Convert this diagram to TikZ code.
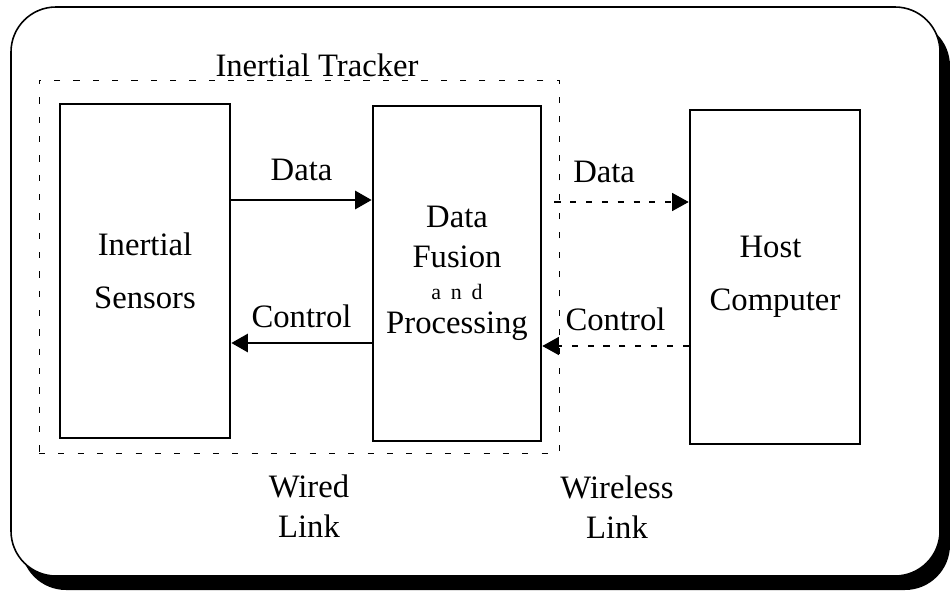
\documentclass[tikz,border=0pt]{standalone}
\usepackage{fontspec}
\setmainfont{Liberation Serif}
\usetikzlibrary{arrows.meta}
\begin{document}
\begin{tikzpicture}[font=\fontsize{18.6}{23}\selectfont,
    >={Triangle[length=3.3mm,width=3.6mm]},
    block/.style={draw, rectangle, line width=1.5pt, minimum width=3.4cm, minimum height=6.68cm, align=center, font=\fontsize{18.6}{30}\selectfont},
    radio/.style={dash pattern=on 3.5pt off 5.5pt, line width=0.6pt}]
    \useasboundingbox (0,0) rectangle (19,-11.84);
    \fill[black, rounded corners=0.9cm] (0.42,-0.42) rectangle (19,-11.8);
    \draw[fill=white, line width=0.9pt, rounded corners=0.9cm] (0.22,-0.14) rectangle (18.8,-11.52);
    \node at (5.98,-5.33) [draw, rectangle, dash pattern=on 3.5pt off 7.5pt, line width=0.5pt, minimum width=10.4cm, minimum height=7.46cm] (T) {};
    \node at (6.34,-1.3) (title) {Inertial Tracker};
    \node at (2.9,-5.42) [block] (sensors) {Inertial\\Sensors};
    \node at (9.14,-5.47) [block, minimum width=3.36cm, minimum height=6.7cm, font=\fontsize{18.6}{23}\selectfont] (fusion) {Data\\Fusion\\[-4.8pt]{\fontsize{12.5}{12.5}\selectfont a\hspace{5.5pt}n\hspace{5.5pt}d}\\[-3.7pt]Processing};
    \node at (15.5,-5.54) [block] (host) {\hspace*{-0.18cm}Host\\Computer};
    \draw[->, line width=1.5pt] (sensors.east |- 0,-4) -- (fusion.west |- 0,-4) node[midway, above=2.4mm] {Data};
    \draw[->, line width=1.5pt] (fusion.west |- 0,-6.86) -- (sensors.east |- 0,-6.86) node[midway, above=1.6mm] {Control};
    \draw[->, radio] ([xshift=-1mm]T.east |- 0,-4.04) -- (host.west |- 0,-4.04) node[pos=0.37, above=2.6mm] {Data};
    \draw[->, radio] (host.west |- 0,-6.92) -- (fusion.east |- 0,-6.92) node[midway, above=1.8mm] {Control};
    \node at (6.18,-10.12) [align=center, font=\fontsize{18.6}{22.7}\selectfont] (wired) {Wired\\Link};
    \node at (12.34,-10.14) [align=center, font=\fontsize{18.6}{22.7}\selectfont] (wireless) {Wireless\\Link};
\end{tikzpicture}
\end{document}
